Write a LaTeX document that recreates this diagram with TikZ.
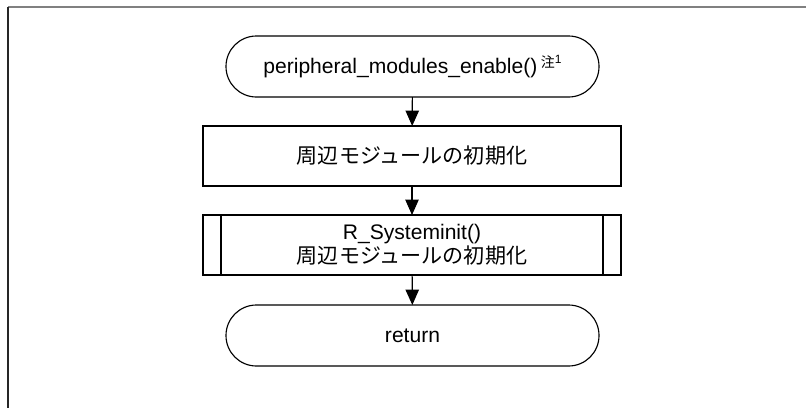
\documentclass[tikz,border=0pt]{standalone}
\usepackage{fontspec}
\setmainfont{Liberation Sans}
\newfontfamily\cjk{Noto Sans CJK JP}
\usetikzlibrary{arrows.meta}
\begin{document}
\begin{tikzpicture}[x=0.75pt,y=-0.75pt,
  line width=0.85pt,
  every node/.style={font=\fontsize{15.8}{18}\selectfont, align=center, outer sep=0pt, inner sep=0pt},
  terminal/.style={draw, rectangle, rounded corners=22.8pt, minimum width=279.75pt, minimum height=45.75pt},
  procbox/.style={draw, rectangle, minimum width=313.5pt, minimum height=45pt},
  flow/.style={-{Triangle[length=11.5pt,width=10pt]}}]
\useasboundingbox (0,0) rectangle (806,408);
\draw[line width=0.9pt, gray] (8,7) -- (806,7);
\draw[line width=0.9pt, black!85] (8,7) -- (8,408);

\node[terminal] (t1) at (412.5,66.5) {peripheral\_modules\_enable()\,\raisebox{4pt}{\fontsize{10.5}{11}\selectfont{\cjk 注}\raisebox{3pt}{\fontsize{9}{9}\selectfont 1}}};
\node[procbox] (r1) at (412,156) {\cjk 周辺モジュールの初期化};
\node[procbox] (r2) at (412,245) {R\_Systeminit()\\[0pt]{\cjk 周辺モジュールの初期化}};
\draw ([xshift=13.5pt]r2.north west) -- ([xshift=13.5pt]r2.south west);
\draw ([xshift=-13.5pt]r2.north east) -- ([xshift=-13.5pt]r2.south east);
\node[terminal] (t2) at (412.5,335.5) {return};

\draw[flow] (t1) -- (r1);
\draw[flow] (r1) -- (r2);
\draw[flow] (r2) -- (t2);
\end{tikzpicture}
\end{document}
